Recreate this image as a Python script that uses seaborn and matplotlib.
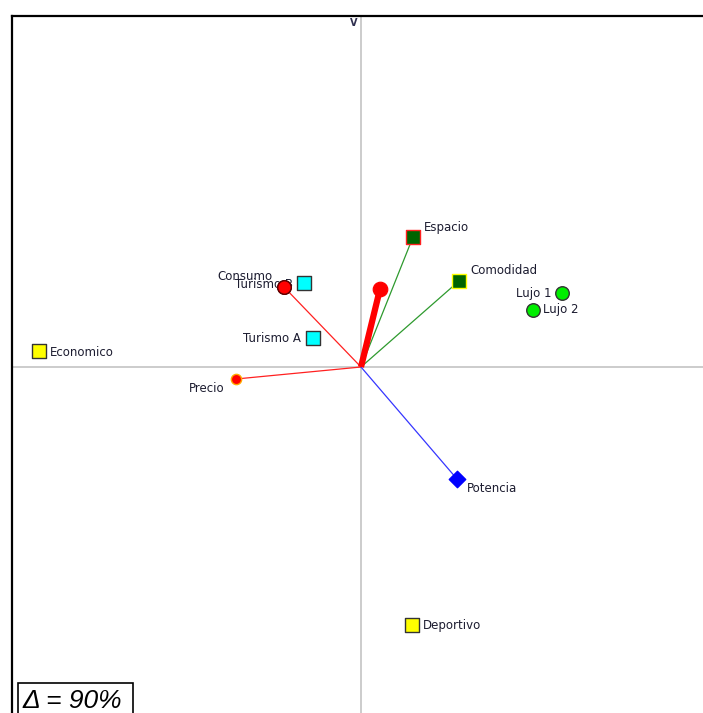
"""
Biplot: vehicle types and attributes on the first factorial plane
"""
import matplotlib.pyplot as plt
import matplotlib.patches as mpatches
import seaborn as sns

# individuals (cars)
car_names = ["Lujo 1", "Lujo 2", "Turismo B", "Turismo A", "Economico", "Deportivo"]
car_x = [2.01, 1.72, -0.57, -0.48, -3.22, 0.51]
car_y = [0.74, 0.57, 0.84, 0.29, 0.16, -2.58]

# variables (vectors from origin)
var_names = ["Espacio", "Comodidad", "Consumo", "Precio", "Potencia"]
var_x = [0.52, 0.98, -0.77, -1.25, 0.96]
var_y = [1.30, 0.86, 0.80, -0.12, -1.12]

# supplementary vector (thick red)
sup_x, sup_y = 0.19, 0.78

delta_label = "Δ = 90%"

sns.set_style("white")
plt.rcParams["font.family"] = ["DejaVu Sans"]

W, H = 703, 713
fig = plt.figure(figsize=(W / 100, H / 100), dpi=100)
ax = fig.add_axes([12 / W, 0, (W - 12) / W, (H - 16) / H])
ax.set_xlim(-3.49, 3.42)
ax.set_ylim(-3.46, 3.51)
ax.set_xticks([])
ax.set_yticks([])
for side in ["right", "bottom"]:
    ax.spines[side].set_visible(False)
for side in ["left", "top"]:
    ax.spines[side].set_color("black")
    ax.spines[side].set_linewidth(1.6)

ax.axhline(0, color="#c8c8c8", linewidth=1.3, zorder=1)
ax.axvline(0, color="#c8c8c8", linewidth=1.3, zorder=1)
ax.text(-0.04, 3.44, "V", fontsize=7, fontweight="bold", color="#303050",
        ha="right", va="center")

# vectors
line_colors = {"Espacio": "#2e9a2e", "Comodidad": "#2e9a2e", "Consumo": "#ff2020",
               "Precio": "#ff2020", "Potencia": "#3535ff"}
for name, x, y in zip(var_names, var_x, var_y):
    ax.plot([0, x], [0, y], color=line_colors[name], linewidth=0.9, zorder=2)
ax.plot([0, sup_x], [0, sup_y], color="#ff0000", linewidth=4.5, solid_capstyle="butt", zorder=3)
sns.scatterplot(x=[sup_x], y=[sup_y], marker="o", s=110, color="#ff0000",
                edgecolor="#ff0000", ax=ax, zorder=4)

# markers
styles = {
    "Lujo 1": dict(marker="o", s=95, color="#00ee00", edgecolor="#333333"),
    "Lujo 2": dict(marker="o", s=95, color="#00ee00", edgecolor="#333333"),
    "Turismo B": dict(marker="s", s=105, color="#00ffff", edgecolor="#333333"),
    "Turismo A": dict(marker="s", s=105, color="#00ffff", edgecolor="#333333"),
    "Economico": dict(marker="s", s=105, color="#ffff00", edgecolor="#333333"),
    "Deportivo": dict(marker="s", s=105, color="#ffff00", edgecolor="#333333"),
    "Espacio": dict(marker="s", s=105, color="#006400", edgecolor="#ff2020"),
    "Comodidad": dict(marker="s", s=105, color="#006400", edgecolor="#ffff00"),
    "Consumo": dict(marker="o", s=95, color="#ff0000", edgecolor="#600000"),
    "Precio": dict(marker="o", s=55, color="#ff0000", edgecolor="#ffaa00"),
    "Potencia": dict(marker="D", s=70, color="#0000ff", edgecolor="#0000ff"),
}
# label offsets in pixels and alignment
offsets = {
    "Lujo 1": (-10, 0, "right"), "Lujo 2": (10, 0, "left"),
    "Turismo B": (-11, -2, "right"), "Turismo A": (-12, -1, "right"),
    "Economico": (11, -1, "left"), "Deportivo": (11, 0, "left"),
    "Espacio": (11, 9, "left"), "Comodidad": (11, 10, "left"),
    "Consumo": (-12, 10, "right"), "Precio": (-12, -10, "right"),
    "Potencia": (10, -10, "left"),
}

names = car_names + var_names
xs = car_x + var_x
ys = car_y + var_y
for name, x, y in zip(names, xs, ys):
    st = styles[name]
    sns.scatterplot(x=[x], y=[y], marker=st["marker"], s=st["s"], color=st["color"],
                    edgecolor=st["edgecolor"], linewidth=1.0, ax=ax, zorder=5)
for name, x, y in zip(names, xs, ys):
    dx, dy, ha = offsets[name]
    ax.annotate(name, (x, y), xytext=(dx, dy), textcoords="offset pixels",
                ha=ha, va="center", fontsize=8.5, color="#1c1c30", zorder=6)
# Consumo marker drawn over Turismo B label, as in the reference
sns.scatterplot(x=[var_x[2]], y=[var_y[2]], marker="o", s=95, color="#ff0000",
                edgecolor="#600000", linewidth=1.0, ax=ax, zorder=7)

# delta box
fig.patches.append(mpatches.Rectangle((18 / W, -0.01), 115 / W, (713 - 683) / H + 0.01,
                                      transform=fig.transFigure, facecolor="white",
                                      edgecolor="black", linewidth=1.2, zorder=10))
fig.text(23 / W, 5 / H, delta_label, fontsize=19, style="italic", color="black",
         family=["Liberation Sans", "DejaVu Sans"], ha="left", va="baseline", zorder=11)

fig.savefig("out.png", dpi=100)
